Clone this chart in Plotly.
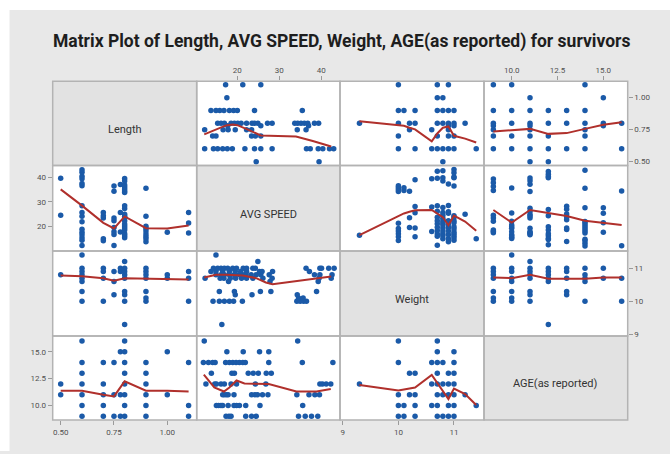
import plotly.graph_objects as go

W, H = 670, 454

# ---- variables ----------------------------------------------------------
var_names = ["Length", "AVG SPEED", "Weight", "AGE(as reported)"]

# value ranges of each variable when used on a column (x) or a row (y)
x_ranges = [[0.4625, 1.138], [10.3, 44.5], [8.95, 11.54], [8.49, 16.33]]
y_ranges = [[0.469, 1.129], [9.9, 44.7], [8.95, 11.52], [8.66, 16.46]]
tick_vals = [[0.5, 0.75, 1.0], [20, 30, 40], [9, 10, 11], [10, 12.5, 15]]
tick_fmt = [".2f", "d", "d", ".1f"]

# ---- observations, grouped by the discrete variable of each pair ---------
speed_by_length = {
    0.5: [24.5, 39.5],
    0.6: [12.2, 14.3, 15.3, 16.5, 17.6, 18.8, 21.8, 24.1, 25.6, 28.3, 36.5, 37.4,
          39.3, 40.4, 42.0, 43.0],
    0.7: [14.1, 14.9, 23.4, 24.3, 25.6],
    0.75: [12.2, 16.6, 17.8, 19.5, 22.2, 23.4, 34.3, 36.4],
    0.78: [17.7, 25.6, 37.0],
    0.8: [15.3, 16.1, 16.9, 18.5, 19.3, 20.1, 20.9, 22.2, 23.5, 24.1, 24.9, 27.2,
          28.3, 33.7, 34.4, 35.2, 36.0, 36.8, 38.4, 39.4],
    0.9: [13.7, 14.9, 15.8, 16.8, 18.1, 19.1, 20.0, 24.1, 35.5],
    1.0: [17.5],
    1.1: [17.2, 21.3, 25.6],
}

weight_by_length = {
    0.5: [10.8],
    0.6: [10.0, 10.3, 10.6, 10.7, 10.8, 10.9, 11.0, 11.4],
    0.7: [10.0, 10.7, 10.9, 11.0],
    0.75: [10.2, 10.6, 10.9],
    0.78: [10.9, 11.0],
    0.8: [9.3, 10.0, 10.2, 10.3, 10.7, 10.8, 10.9, 11.0, 11.2],
    0.9: [10.0, 10.1, 10.3, 10.7, 10.8, 10.9, 11.0],
    1.0: [10.7, 10.8],
    1.1: [10.0, 10.7, 10.9],
}

age_by_length = {
    0.5: [11, 12],
    0.6: [9, 10, 11, 12, 13, 14, 16],
    0.7: [9, 10, 11, 12, 14],
    0.75: [9, 11, 14],
    0.78: [9, 11, 15],
    0.8: [9, 10, 11, 12, 13, 14, 15, 16],
    0.9: [9, 10, 11, 12, 13, 14],
    1.0: [11, 15],
    1.1: [9, 10, 14],
}

speed_by_weight = {
    9.3: [16.3],
    10.0: [14.2, 15.7, 16.9, 18.1, 19.1, 21.2, 34.2, 35.0, 35.8, 36.5],
    10.1: [34.6, 35.7],
    10.2: [19.5, 23.5, 34.3],
    10.3: [15.7, 19.3, 25.5, 28.0, 38.9],
    10.6: [17.9, 27.8, 39.3],
    10.7: [12.3, 15.9, 16.8, 18.3, 19.6, 21.0, 22.2, 23.7, 26.1, 28.3, 39.5, 42.4],
    10.8: [14.9, 16.1, 16.9, 18.1, 19.3, 20.5, 21.3, 22.1, 23.3, 24.5, 25.6, 27.6,
           38.4, 39.7, 42.6],
    10.9: [13.7, 14.9, 16.5, 18.1, 19.5, 20.8, 22.2, 25.3, 25.9, 28.4, 37.2],
    11.0: [14.3, 15.3, 16.1, 16.9, 17.7, 18.9, 19.8, 21.4, 22.2, 23.7, 24.3, 36.4,
           39.7, 40.1, 41.8, 43.1],
    11.2: [24.9],
    11.4: [14.9],
}

speed_by_age = {
    9: [17.3, 18.0, 18.5, 22.0, 23.4, 24.5, 34.6, 36.2, 37.7, 39.2],
    10: [15.0, 15.5, 16.1, 16.5, 17.8, 19.2, 19.8, 20.5, 22.0, 25.4, 35.6],
    11: [16.5, 16.9, 17.4, 17.8, 19.2, 23.4, 24.2, 24.8, 26.0, 27.3, 34.2, 37.1,
         38.5, 39.6],
    12: [12.5, 14.6, 15.0, 16.1, 16.9, 18.5, 19.8, 24.3, 26.8, 39.7, 40.3, 41.2, 42.3],
    13: [13.8, 18.7, 19.3, 22.6, 23.8, 25.0, 26.9, 28.1],
    14: [11.9, 13.1, 14.1, 14.7, 17.2, 18.1, 18.9, 19.7, 20.5, 21.3, 21.9, 27.5,
         35.5, 42.8],
    15: [17.5, 21.4, 25.3, 27.5],
    16: [12.1, 34.4],
}

age_by_weight = {
    9.3: [12],
    10.0: [9, 10, 11, 14, 16],
    10.1: [9, 10],
    10.2: [11, 13],
    10.3: [9, 10, 11, 13],
    10.6: [10, 12, 14],
    10.7: [9, 10, 11, 12, 13, 14, 15, 16],
    10.8: [9, 11, 12, 14],
    10.9: [9, 10, 11, 12, 13],
    11.0: [9, 10, 11, 12, 13, 14, 15],
    11.2: [11],
    11.4: [10],
}

# ---- lowess smoother paths: (row, col) -> (x along column var, y along row var)
smoothers = {
    (0, 1): ([12.1, 17.3, 18.9, 20.0, 22.1, 25.6, 27.6, 34.0, 38.0, 42.4],
             [0.713, 0.783, 0.790, 0.785, 0.756, 0.705, 0.702, 0.697, 0.661, 0.618]),
    (0, 2): ([9.3, 10.0, 10.1, 10.2, 10.3, 10.6, 10.7, 10.8, 10.9, 11.0, 11.2, 11.4],
             [0.815, 0.788, 0.78, 0.765, 0.752, 0.658, 0.72, 0.765, 0.775, 0.702, 0.68, 0.65]),
    (0, 3): ([9, 10, 11, 12, 13, 14, 15, 16],
             [0.736, 0.744, 0.756, 0.717, 0.723, 0.756, 0.788, 0.808]),
    (1, 0): ([0.5, 0.6, 0.7, 0.75, 0.8, 0.9, 1.0, 1.1],
             [35.0, 28.4, 21.4, 19.1, 24.0, 19.2, 19.1, 20.3]),
    (1, 2): ([9.3, 10.0, 10.1, 10.2, 10.3, 10.6, 10.7, 10.8, 10.9, 11.0, 11.2, 11.4],
             [16.4, 24.4, 25.2, 25.9, 26.5, 26.6, 25.3, 23.7, 20.4, 24.3, 21.9, 18.2]),
    (1, 3): ([9, 10, 11, 12, 13, 14, 15, 16],
             [26.6, 21.5, 26.6, 25.5, 24.2, 22.2, 21.2, 20.5]),
    (2, 0): ([0.5, 0.6, 0.7, 0.75, 0.8, 0.9, 1.0, 1.1],
             [10.78, 10.76, 10.70, 10.62, 10.70, 10.68, 10.68, 10.66]),
    (2, 1): ([12.1, 14.9, 17.3, 21.3, 24.5, 26.8, 28.4, 34.0, 38.8, 42.4],
             [10.72, 10.80, 10.80, 10.78, 10.70, 10.57, 10.52, 10.62, 10.70, 10.75]),
    (2, 3): ([9, 10, 11, 12, 13, 14, 15, 16],
             [10.72, 10.70, 10.80, 10.68, 10.68, 10.68, 10.72, 10.72]),
    (3, 0): ([0.5, 0.6, 0.7, 0.75, 0.8, 0.9, 1.0, 1.1],
             [11.37, 11.37, 11.0, 10.85, 12.25, 11.37, 11.37, 11.31]),
    (3, 1): ([12.0, 14.5, 16.8, 18.1, 19.8, 21.7, 23.8, 27.5, 34.1, 38.9, 42.3],
             [12.88, 11.68, 11.30, 11.68, 12.33, 12.05, 12.02, 11.99, 11.31, 11.31, 11.53]),
    (3, 2): ([9.3, 10.0, 10.3, 10.6, 10.9, 11.0, 11.2, 11.4],
             [11.9, 11.4, 11.68, 12.84, 10.6, 11.58, 11.07, 10.05]),
}


def expand(groups):
    keys, vals = [], []
    for k, vs in groups.items():
        for v in vs:
            keys.append(k)
            vals.append(v)
    return keys, vals


# pair (i, j) -> {var index: values}
pairs = {}
k_, v_ = expand(speed_by_length)
pairs[(0, 1)] = {0: k_, 1: v_}
k_, v_ = expand(weight_by_length)
pairs[(0, 2)] = {0: k_, 2: v_}
k_, v_ = expand(age_by_length)
pairs[(0, 3)] = {0: k_, 3: v_}
k_, v_ = expand(speed_by_weight)
pairs[(1, 2)] = {2: k_, 1: v_}
k_, v_ = expand(speed_by_age)
pairs[(1, 3)] = {3: k_, 1: v_}
k_, v_ = expand(age_by_weight)
pairs[(2, 3)] = {2: k_, 3: v_}

# ---- cell geometry (pixels) -----------------------------------------------
col_edges = [52.7, 196.7, 340.0, 484.0, 627.7]
row_edges = [81.7, 166.7, 252.7, 338.3, 422.7]

BG = "#e8e8e8"
DIAG = "#e2e2e2"
BORDER = "#b3b3b3"
DOT = "#1b5aa8"
SMOOTH = "#b0302c"
FONT = "Roboto, 'Open Sans', sans-serif"

fig = go.Figure()
layout_axes = {}
shapes = []
annotations = []

# white strip at the left and top edge of the page
shapes.append(dict(type="rect", xref="paper", yref="paper", x0=0, x1=9.5 / W,
                   y0=0, y1=1, fillcolor="white", line=dict(width=0), layer="below"))
shapes.append(dict(type="rect", xref="paper", yref="paper", x0=0, x1=1,
                   y0=1 - 10 / H, y1=1, fillcolor="white", line=dict(width=0),
                   layer="below"))

tick_style = dict(ticks="outside", ticklen=4, tickwidth=1, tickcolor="#9a9a9a",
                  tickfont=dict(family=FONT, size=8, color="#505050"))

k = 0
for r in range(4):
    for c in range(4):
        x0, x1 = col_edges[c] / W, col_edges[c + 1] / W
        y0, y1 = 1 - row_edges[r + 1] / H, 1 - row_edges[r] / H
        if r == c:
            shapes.append(dict(type="rect", xref="paper", yref="paper",
                               x0=x0, x1=x1, y0=y0, y1=y1, fillcolor=DIAG,
                               line=dict(width=0), layer="below"))
            cy = (row_edges[r] + row_edges[r + 1]) / 2 + 6
            annotations.append(dict(text=var_names[r], xref="paper", yref="paper",
                                    x=(x0 + x1) / 2, y=1 - cy / H, showarrow=False,
                                    xanchor="center", yanchor="middle",
                                    font=dict(family=FONT, size=11, color="#333333")))
        else:
            k += 1
            xa, ya = f"x{k}", f"y{k}"
            data = pairs[(min(r, c), max(r, c))]
            fig.add_trace(go.Scatter(
                x=data[c], y=data[r], mode="markers", xaxis=xa, yaxis=ya,
                marker=dict(size=5.5, color=DOT), showlegend=False, hoverinfo="skip"))
            sx, sy = smoothers[(r, c)]
            fig.add_trace(go.Scatter(
                x=sx, y=sy, mode="lines", xaxis=xa, yaxis=ya,
                line=dict(color=SMOOTH, width=2), showlegend=False, hoverinfo="skip"))

            xax = dict(domain=[x0, x1], range=x_ranges[c], anchor=ya,
                       showgrid=False, zeroline=False, showline=False,
                       fixedrange=True)
            if (r == 0 and c in (1, 3)) or (r == 3 and c in (0, 2)):
                xax.update(tick_style, side="top" if r == 0 else "bottom",
                           tickvals=tick_vals[c], tickformat=tick_fmt[c])
            else:
                xax.update(showticklabels=False, ticks="")
            yax = dict(domain=[y0, y1], range=y_ranges[r], anchor=xa,
                       showgrid=False, zeroline=False, showline=False,
                       fixedrange=True)
            if (c == 0 and r in (1, 3)) or (c == 3 and r in (0, 2)):
                yax.update(tick_style, side="left" if c == 0 else "right",
                           tickvals=tick_vals[r], tickformat=tick_fmt[r])
            else:
                yax.update(showticklabels=False, ticks="")
            layout_axes["xaxis" if k == 1 else f"xaxis{k}"] = xax
            layout_axes["yaxis" if k == 1 else f"yaxis{k}"] = yax

        # cell border
        shapes.append(dict(type="rect", xref="paper", yref="paper",
                           x0=x0, x1=x1, y0=y0, y1=y1,
                           line=dict(color=BORDER, width=1.5), layer="above"))

annotations.append(dict(
    text="<b>Matrix Plot of Length, AVG SPEED, Weight, AGE(as reported) for survivors</b>",
    xref="paper", yref="paper", x=341 / W, y=1 - 42 / H, showarrow=False,
    xanchor="center", yanchor="middle",
    font=dict(family=FONT, size=17.5, color="#1e1e1e")))

fig.update_layout(
    width=W, height=H, margin=dict(l=0, r=0, t=0, b=0),
    paper_bgcolor=BG, plot_bgcolor="white",
    shapes=shapes, annotations=annotations, **layout_axes)

fig.write_html("out.html", config={"displayModeBar": False})
